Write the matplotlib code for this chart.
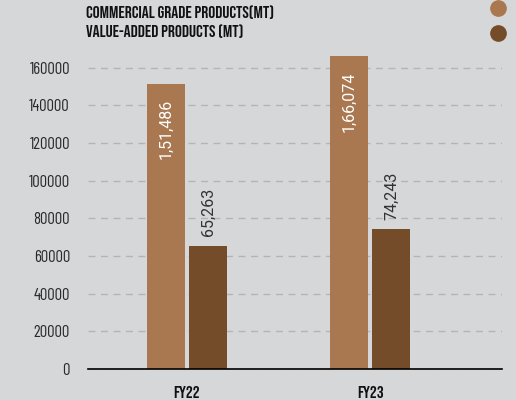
import matplotlib
matplotlib.use("Agg")
import matplotlib.pyplot as plt
from matplotlib.lines import Line2D
import numpy as np

years = ["FY22", "FY23"]
commercial = [151486, 166074]
value_added = [65263, 74243]
commercial_labels = ["1,51,486", "1,66,074"]
value_added_labels = ["65,263", "74,243"]
series_names = ["COMMERCIAL GRADE PRODUCTS(MT)", "VALUE-ADDED PRODUCTS (MT)"]

BG = "#d6d7d9"
C1 = "#a97850"
C2 = "#754c2a"
HEAD = ["Bebas Neue", "Oswald", "DejaVu Sans"]
TICK = ["Barlow Condensed", "Roboto Condensed", "DejaVu Sans"]
VAL = ["Roboto", "DejaVu Sans"]

fig = plt.figure(figsize=(5.16, 4.0), dpi=100, facecolor=BG)
ax = fig.add_axes([0.1705, 0.0775, 0.8025, 0.80])
ax.set_facecolor(BG)

x = np.arange(len(years))
w = 0.207
off = 0.115
b1 = ax.bar(x - off, commercial, w, color=C1, zorder=3)
b2 = ax.bar(x + off, value_added, w, color=C2, zorder=3)

for bar, lab in zip(b1, commercial_labels):
    ax.annotate(lab, (bar.get_x() + bar.get_width() / 2, bar.get_height()),
                xytext=(0, -11), textcoords="offset points", rotation=90,
                ha="center", va="top", color="white", fontsize=11.5, family=VAL)
for bar, lab in zip(b2, value_added_labels):
    ax.annotate(lab, (bar.get_x() + bar.get_width() / 2, bar.get_height()),
                xytext=(0, 7), textcoords="offset points", rotation=90,
                ha="center", va="bottom", color="#333333", fontsize=11.5, family=VAL)

ax.set_xlim(-0.54, 1.72)
ax.set_ylim(0, 170000)
ax.set_yticks(np.arange(0, 160001, 20000))
ax.set_yticklabels([str(v) for v in range(0, 160001, 20000)],
                   family=TICK, fontsize=12, color="#2a2a2a")
ax.set_xticks(x)
ax.set_xticklabels(years, family=HEAD, fontsize=12.5, color="#111111")
ax.tick_params(length=0, pad=12)
ax.tick_params(axis="y", pad=13)

ax.grid(axis="y", linestyle=(0, (5, 4)), color="#b4b4b4", linewidth=1, zorder=0)
for s in ["top", "right", "left"]:
    ax.spines[s].set_visible(False)
ax.spines["bottom"].set_color("black")
ax.spines["bottom"].set_linewidth(1.2)
ax.spines["bottom"].set_zorder(4)

# legend drawn as header
fig.text(86 / 516, 1 - 12 / 400, series_names[0], family=HEAD,
         fontsize=12.5, color="#111111", va="center", ha="left")
fig.text(86 / 516, 1 - 31 / 400, series_names[1], family=HEAD,
         fontsize=12.5, color="#111111", va="center", ha="left")
fig.add_artist(Line2D([498 / 516], [1 - 8 / 400], marker="o", markersize=11,
                      color=C1, linestyle="none"))
fig.add_artist(Line2D([498 / 516], [1 - 33 / 400], marker="o", markersize=11,
                      color=C2, linestyle="none"))

fig.savefig("out.png", dpi=100, facecolor=BG)
